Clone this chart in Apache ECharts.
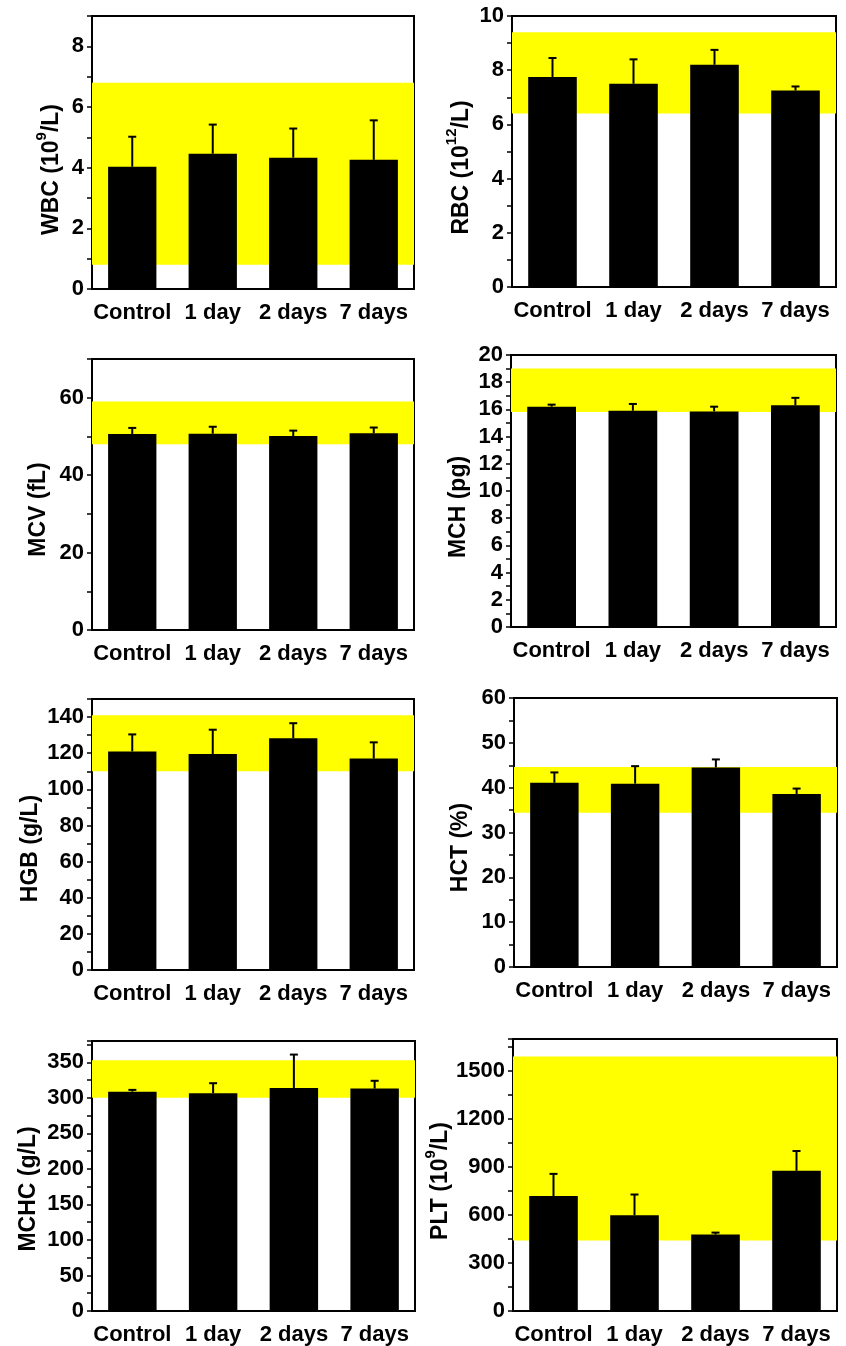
<!DOCTYPE html>
<html lang="en">
<head>
<meta charset="UTF-8">
<title>Blood panel</title>
<style>
  html, body { margin: 0; padding: 0; background: #fff; }
  #main { width: 846px; height: 1346px; }
</style>
</head>
<body>
<div id="main"></div>
<script src="https://cdn.jsdelivr.net/npm/echarts@6/dist/echarts.min.js"></script>
<script>
var categories = ['Control', '1 day', '2 days', '7 days'];

// bar heights (mean) and upper error (sd)
var wbcMean = [4.03, 4.46, 4.33, 4.26];
var wbcSd = [0.99, 0.96, 0.96, 1.30];
var rbcMean = [7.75, 7.5, 8.2, 7.25];
var rbcSd = [0.7, 0.9, 0.55, 0.15];
var mcvMean = [50.6, 50.7, 50.1, 50.8];
var mcvSd = [1.6, 1.8, 1.4, 1.5];
var mchMean = [16.2, 15.9, 15.85, 16.3];
var mchSd = [0.15, 0.5, 0.35, 0.55];
var hgbMean = [121, 119.5, 128.3, 117];
var hgbSd = [9.4, 13.5, 8.3, 9];
var hctMean = [41.1, 40.9, 44.5, 38.6];
var hctSd = [2.3, 3.9, 1.8, 1.2];
var mchcMean = [308.7, 306.4, 313.9, 313];
var mchcSd = [2.5, 14.2, 47, 11];
var pltMean = [718, 598, 478, 876];
var pltSd = [139, 130, 12, 124];

// normal reference ranges (yellow bands)
var wbcRange = [0.8, 6.8];
var rbcRange = [6.4, 9.4];
var mcvRange = [48, 59];
var mchRange = [15.8, 19];
var hgbRange = [110, 141];
var hctRange = [34.4, 44.6];
var mchcRange = [300, 353];
var pltRange = [440, 1590];

// y axis: [max, label step, tick step]
var wbcAxis = [9, 2, 1];
var rbcAxis = [10, 2, 1];
var mcvAxis = [70, 20, 10];
var mchAxis = [20, 2, 1];
var hgbAxis = [150, 20, 10];
var hctAxis = [60, 10, 5];
var mchcAxis = [380, 50, 25];
var pltAxis = [1700, 300, 150];

var panels = [
    { name: '{n|WBC (10}{sup|9}{n|/L)}', mean: wbcMean, sd: wbcSd, range: wbcRange, axis: wbcAxis },
    { name: '{n|RBC (10}{sup|12}{n|/L)}', mean: rbcMean, sd: rbcSd, range: rbcRange, axis: rbcAxis },
    { name: 'MCV (fL)', mean: mcvMean, sd: mcvSd, range: mcvRange, axis: mcvAxis },
    { name: 'MCH (pg)', mean: mchMean, sd: mchSd, range: mchRange, axis: mchAxis },
    { name: 'HGB (g/L)', mean: hgbMean, sd: hgbSd, range: hgbRange, axis: hgbAxis },
    { name: 'HCT (%)', mean: hctMean, sd: hctSd, range: hctRange, axis: hctAxis },
    { name: 'MCHC (g/L)', mean: mchcMean, sd: mchcSd, range: mchcRange, axis: mchcAxis },
    { name: '{n|PLT (10}{sup|9}{n|/L)}', mean: pltMean, sd: pltSd, range: pltRange, axis: pltAxis }
];

// plot boxes [left, top, width, height], y-title gap and downward shift
var boxes = [
    [92, 16, 322, 273], [512, 16, 324, 271],
    [92, 359, 322, 271], [511, 355, 325, 272],
    [92, 699, 322, 271], [514, 698, 323, 269],
    [92, 1041, 323, 270], [513, 1039, 324, 273]
];
var nameGaps = [29, 39, 42, 41, 50, 42, 52, 55];
var nameShift = [17, 16, 15, 16, 14, 15, 13, 6];

var font = '"Liberation Sans", Arial, sans-serif';
var grids = [], xAxes = [], yAxes = [], series = [];

panels.forEach(function (p, i) {
    var b = boxes[i];
    grids.push({
        left: b[0], top: b[1], width: b[2], height: b[3],
        show: true, borderColor: '#000', borderWidth: 2, backgroundColor: 'transparent'
    });
    xAxes.push({
        type: 'category', gridIndex: i, data: categories,
        axisLine: { lineStyle: { color: '#000', width: 2 } },
        axisTick: { alignWithLabel: true, length: 6, lineStyle: { color: '#000', width: 2 } },
        axisLabel: { interval: 0, margin: 13, color: '#000', fontSize: 22, fontWeight: 'bold', fontFamily: font }
    });
    var major = p.axis[1];
    yAxes.push({
        type: 'value', gridIndex: i, min: 0, max: p.axis[0], interval: p.axis[2],
        name: p.name, nameLocation: 'middle', nameGap: nameGaps[i],
        nameTextStyle: {
            color: '#000', fontSize: 23, fontWeight: 'bold', fontFamily: font,
            padding: [0, nameShift[i] * 2, 0, 0],
            rich: {
                n: { fontSize: 23, fontWeight: 'bold', fontFamily: font, color: '#000', lineHeight: 29, verticalAlign: 'bottom' },
                sup: { fontSize: 15, fontWeight: 'bold', fontFamily: font, color: '#000', lineHeight: 15, verticalAlign: 'top' }
            }
        },
        splitLine: { show: false },
        axisLine: { show: true, lineStyle: { color: '#000', width: 2 } },
        axisTick: { show: true, length: 5, lineStyle: { color: '#000', width: 1.5 } },
        axisLabel: {
            margin: 8, color: '#000', fontSize: 22, fontWeight: 'bold', fontFamily: font,
            formatter: function (v) { return Math.abs(v % major) < 1e-6 ? String(v) : ''; }
        }
    });
    series.push({
        type: 'bar', xAxisIndex: i, yAxisIndex: i, data: p.mean, barWidth: '60%',
        itemStyle: { color: '#000' }, silent: true,
        markArea: {
            silent: true,
            itemStyle: { color: '#ffff00', opacity: 1 },
            data: [[{ yAxis: p.range[0] }, { yAxis: p.range[1] }]]
        }
    });
    series.push({
        type: 'custom', xAxisIndex: i, yAxisIndex: i, z: 5, silent: true,
        data: p.mean.map(function (m, k) { return [k, m, p.sd[k]]; }),
        encode: { x: 0, y: 1 },
        renderItem: function (params, api) {
            var base = api.coord([api.value(0), api.value(1)]);
            var top = api.coord([api.value(0), api.value(1) + api.value(2)]);
            var st = { stroke: '#000', lineWidth: 2 };
            return {
                type: 'group', children: [
                    { type: 'line', shape: { x1: base[0], y1: base[1], x2: top[0], y2: top[1] }, style: st },
                    { type: 'line', shape: { x1: top[0] - 4, y1: top[1], x2: top[0] + 4, y2: top[1] }, style: st }
                ]
            };
        }
    });
});

var main = echarts.init(document.getElementById('main'));
main.setOption({
    animation: false,
    backgroundColor: '#fff',
    grid: grids,
    xAxis: xAxes,
    yAxis: yAxes,
    series: series
});
</script>
</body>
</html>
